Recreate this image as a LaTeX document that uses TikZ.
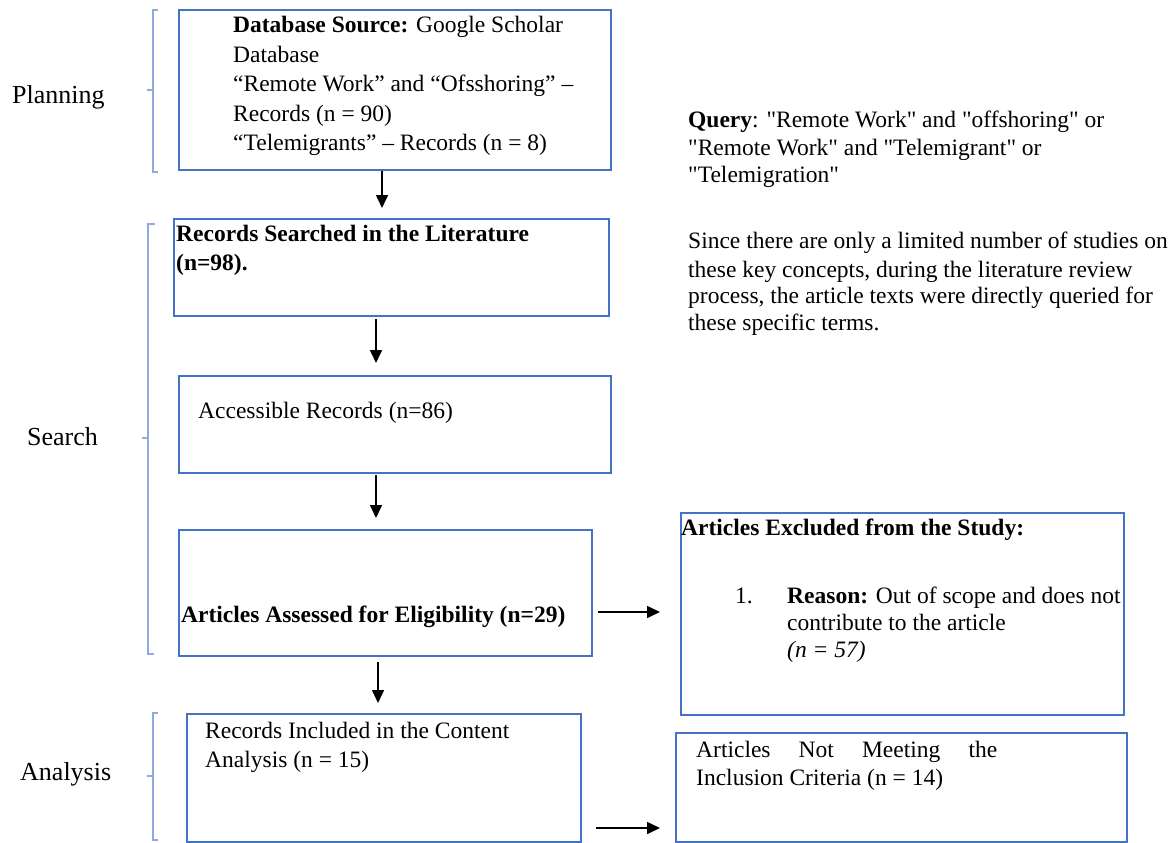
\documentclass[tikz,border=0pt]{standalone}
\usepackage{fontspec}
\setmainfont{Liberation Serif}
\usetikzlibrary{arrows.meta}
\definecolor{boxblue}{HTML}{4472C4}
\definecolor{brblue}{HTML}{8FAADC}
\newcommand{\sq}{\textquotedbl}
\begin{document}
\begin{tikzpicture}[x=1pt,y=-1pt,
  box/.style={draw=boxblue,line width=2pt,inner sep=0pt,anchor=north west},
  txt/.style={anchor=base west,inner sep=0pt,font=\fontsize{23.5}{27}\selectfont},
  lbl/.style={anchor=base west,inner sep=0pt,font=\fontsize{26}{30}\selectfont},
  arr/.style={line width=1.6pt,-{Triangle[length=13pt,width=12pt]}},
  brk/.style={draw=brblue,line width=1.2pt}]
\useasboundingbox[fill=white] (0,0) rectangle (1175,843);

% boxes
\node[box,minimum width=432pt,minimum height=160pt] (b1) at (178,9) {};
\node[box,minimum width=435pt,minimum height=97pt] (b2) at (173,218) {};
\node[box,minimum width=432pt,minimum height=97pt] (b3) at (178,375) {};
\node[box,minimum width=413pt,minimum height=126pt] (b4) at (178,529) {};
\node[box,minimum width=394pt,minimum height=128pt] (b5) at (186,713) {};
\node[box,minimum width=443pt,minimum height=202pt] (b6) at (680,512) {};
\node[box,minimum width=451pt,minimum height=109pt] (b7) at (675,732) {};

% brackets
\draw[brk] (158,10) -- (153,10) -- (153,172) -- (158,172) (153,90) -- (147,90);
\draw[brk] (155,224) -- (148,224) -- (148,654) -- (154,654) (148,438) -- (142,438);
\draw[brk] (158,713) -- (153,713) -- (153,840) -- (158,840) (153,776) -- (147,776);

% phase labels
\node[lbl] (lplan) at (12,103) {Planning};
\node[lbl] (lsearch) at (27,445) {Search};
\node[lbl] (lanal) at (20,780) {Analysis};

% box 1 text
\node[txt] (t1a) at (233,33) {\textbf{Database Source:} Google Scholar};
\node[txt] (t1b) at (233,62.5) {Database};
\node[txt] (t1c) at (233,92) {“Remote Work” and “Ofsshoring” –};
\node[txt] (t1d) at (233,121) {Records (n = 90)};
\node[txt] (t1e) at (233,150) {“Telemigrants” – Records (n = 8)};

% box 2 text
\node[txt] (t2a) at (176,241) {\textbf{Records Searched in the Literature}};
\node[txt] (t2b) at (176,270) {\textbf{(n=98).}};

% box 3 text
\node[txt] (t3a) at (198,418) {Accessible Records (n=86)};

% box 4 text
\node[txt] (t4a) at (181,622) {\textbf{Articles Assessed for Eligibility (n=29)}};

% box 5 text
\node[txt] (t5a) at (205,738) {Records Included in the Content};
\node[txt] (t5b) at (205,767) {Analysis (n = 15)};

% box 6 text
\node[txt] (t6a) at (681,535) {\textbf{Articles Excluded from the Study:}};
\node[txt] (t6n) at (735,603) {1.};
\node[txt] (t6b) at (787,603) {\textbf{Reason:} Out of scope and does not};
\node[txt] (t6c) at (787,630) {contribute to the article};
\node[txt] (t6d) at (787,657) {\textit{(n = 57)}};

% box 7 text
\node[txt] (t7a) at (696,757) {\makebox[301pt][s]{Articles Not Meeting the}};
\node[txt] (t7b) at (696,785) {Inclusion Criteria (n = 14)};

% side notes
\node[txt] (q1) at (688,127) {\textbf{Query}: \sq Remote Work\sq{} and \sq offshoring\sq{} or};
\node[txt] (q2) at (688,155) {\sq Remote Work\sq{} and \sq Telemigrant\sq{} or};
\node[txt] (q3) at (688,182) {\sq Telemigration\sq};
\node[txt] (s1) at (688,248) {Since there are only a limited number of studies on};
\node[txt] (s2) at (688,277) {these key concepts, during the literature review};
\node[txt] (s3) at (688,303) {process, the article texts were directly queried for};
\node[txt] (s4) at (688,330) {these specific terms.};

% arrows
\coordinate (a1s) at (382,171); \coordinate (a1e) at (382,208);
\coordinate (a2s) at (376,319); \coordinate (a2e) at (376,363);
\coordinate (a3s) at (376,475); \coordinate (a3e) at (376,518);
\coordinate (a4s) at (378,662); \coordinate (a4e) at (378,703);
\coordinate (a5s) at (598,612); \coordinate (a5e) at (660,612);
\coordinate (a6s) at (596,828); \coordinate (a6e) at (660,828);
\draw[arr] (a1s) -- (a1e);
\draw[arr] (a2s) -- (a2e);
\draw[arr] (a3s) -- (a3e);
\draw[arr] (a4s) -- (a4e);
\draw[arr] (a5s) -- (a5e);
\draw[arr] (a6s) -- (a6e);
\end{tikzpicture}
\end{document}
